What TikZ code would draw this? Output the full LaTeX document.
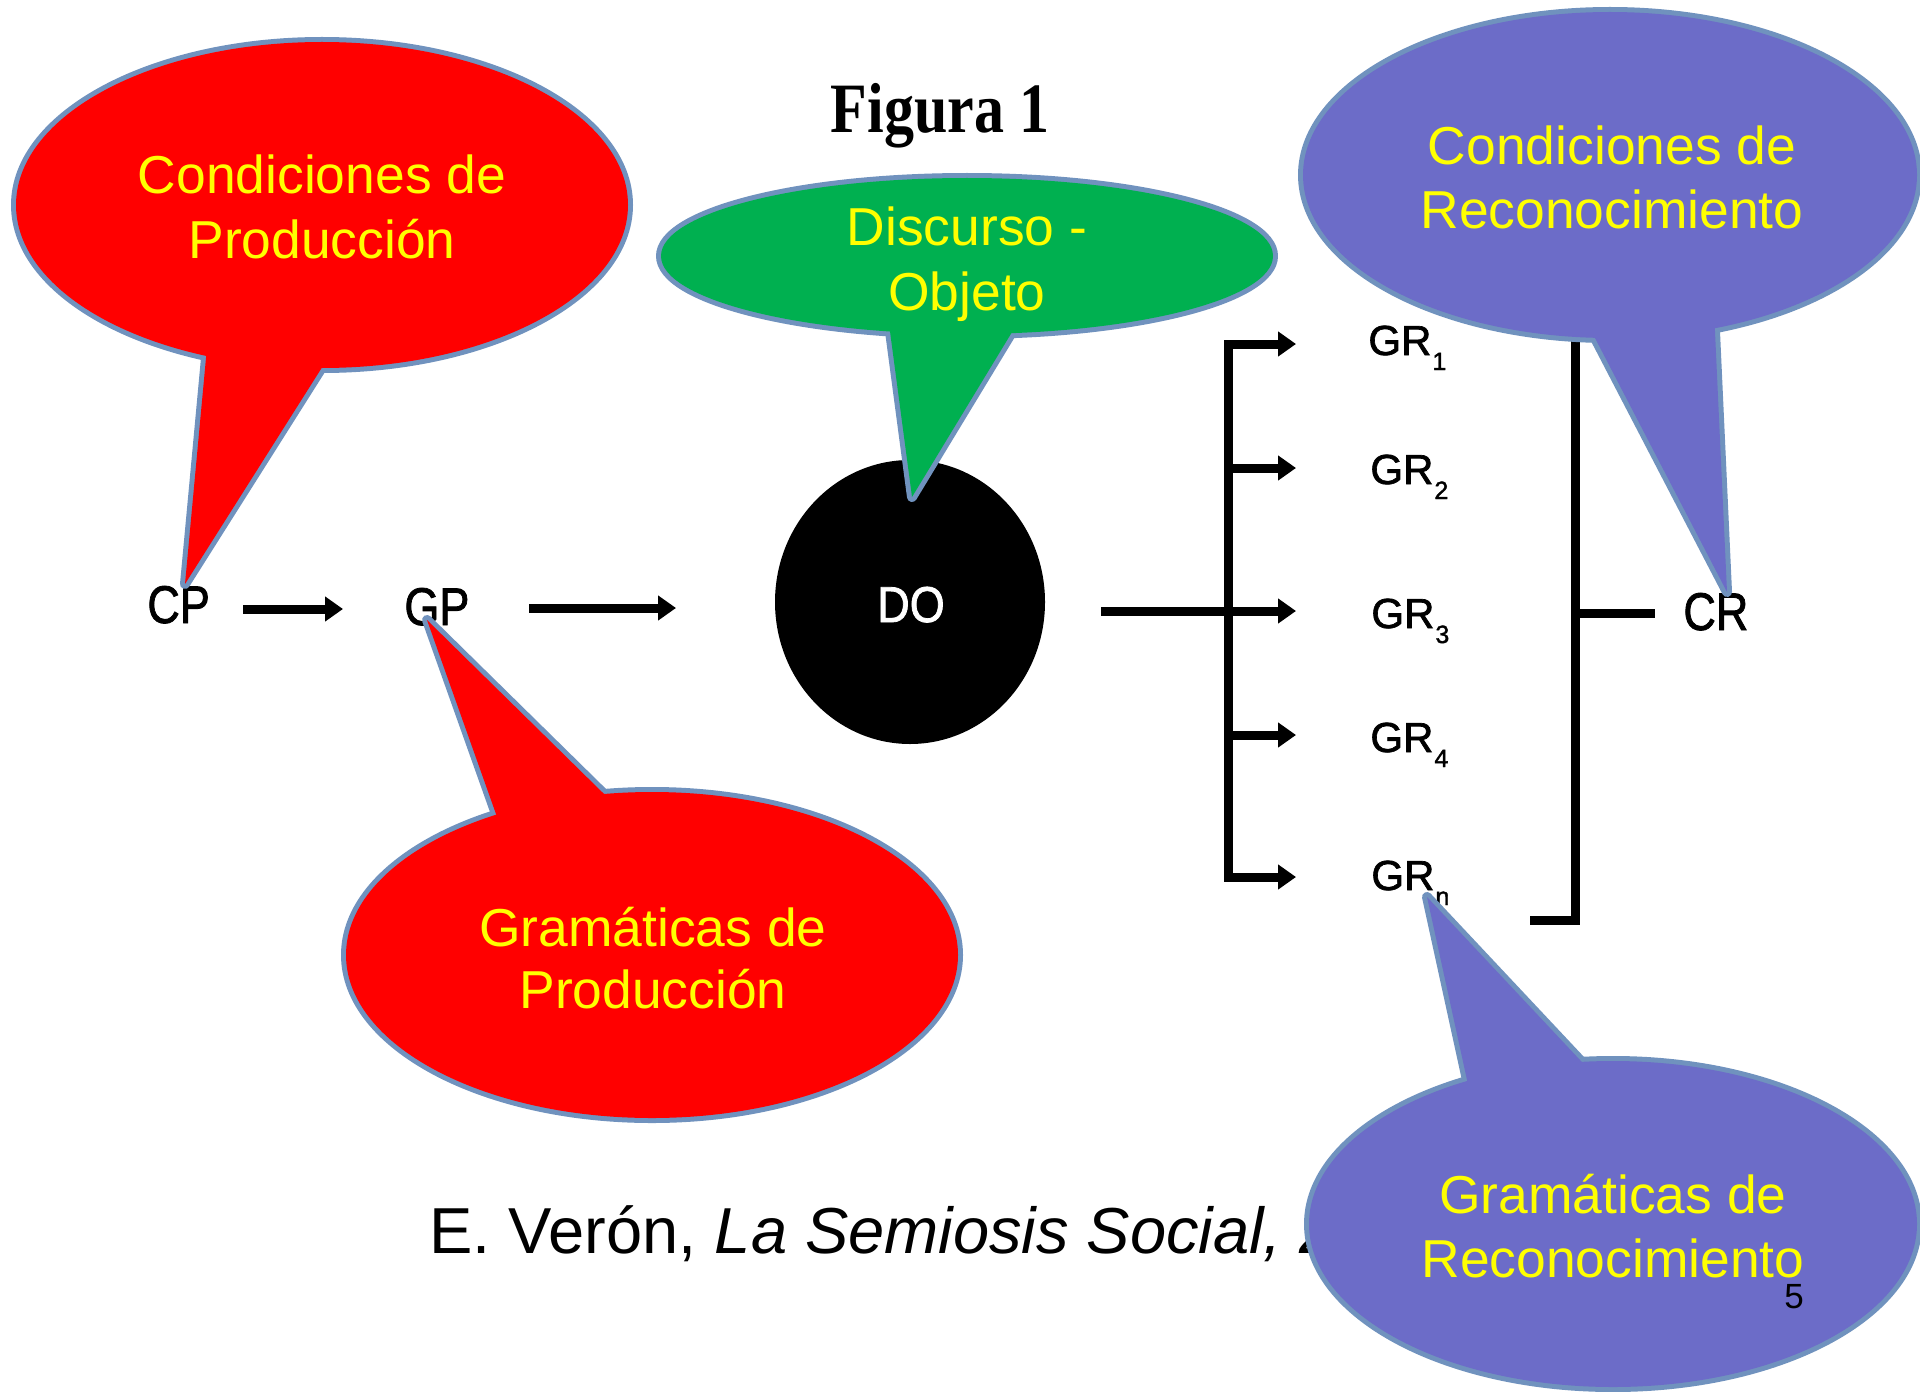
\documentclass[tikz,border=0pt]{standalone}
\usepackage{fontspec}
\setmainfont{Liberation Sans}
\newfontfamily\figserif{Liberation Serif}
\newfontfamily\scanfont{Liberation Sans}[FakeBold=1.6]
\usepackage{graphicx}
\usetikzlibrary{arrows.meta,calc,shapes.geometric}
\definecolor{cred}{RGB}{255,0,0}
\definecolor{cgreen}{RGB}{0,176,80}
\definecolor{cpurple}{RGB}{108,108,200}
\definecolor{coutline}{RGB}{112,146,190}
\definecolor{cyellow}{RGB}{255,255,0}
\newcommand\grsub[1]{\kern0.5pt\raisebox{-7.5pt}{\fontsize{12.5pt}{14pt}\selectfont #1}}
\newcommand\mkcallout[7]{%
  \draw[cout] #1 ellipse[x radius=#2, y radius=#3];
  \draw[cout] ($#4!1.3!#5$) -- #4 -- ($#4!1.3!#6$) -- cycle;
  \fill[#7] #1 ellipse[x radius=#2, y radius=#3];
  \fill[#7] ($#4!1.3!#5$) -- #4 -- ($#4!1.3!#6$) -- cycle;
}
\begin{document}
\begin{tikzpicture}[x=0.5pt,y=-0.5pt,
  blk/.style={line width=4.5pt,black},
  arr/.style={blk,-{Triangle[length=9pt,width=12pt]}},
  scan/.style={inner sep=0pt,anchor=base west,font=\scanfont\fontsize{22.5pt}{27pt}\selectfont},
  grlab/.style={inner sep=0pt,anchor=base west,font=\scanfont\fontsize{21pt}{25pt}\selectfont},
  ctext/.style={inner sep=0pt,anchor=base,text=cyellow,font=\fontsize{26.7pt}{32pt}\selectfont},
  cout/.style={draw=coutline,line width=5pt,line join=round}]
\useasboundingbox (0,0) rectangle (1920,1391);
\fill[white] (0,0) rectangle (1920,1391);

% title
\node[anchor=base,inner sep=0pt,font=\figserif\bfseries\fontsize{30pt}{36pt}\selectfont] (fig) at (940,133) {\scalebox{1}[1.18]{Figura 1}};

% scanned diagram
\node[scan] (cp) at (147,623) {\scalebox{1}[1.18]{CP}};
\node[scan] (gp) at (404,625) {\scalebox{1}[1.18]{GP}};
\node[ellipse,fill=black,minimum width=135pt,minimum height=142pt,inner sep=0pt] (do) at (910,602) {};
\node[scan,anchor=base,text=white] (dolab) at (911,622) {\scalebox{1}[1.12]{DO}};
\node[scan] (cr) at (1683,630) {\scalebox{1}[1.18]{CR}};

\node[grlab] (gr1) at (1368,355) {GR\grsub{1}};
\node[grlab] (gr2) at (1370,484) {GR\grsub{2}};
\node[grlab] (gr3) at (1371,628) {GR\grsub{3}};
\node[grlab] (gr4) at (1370,752) {GR\grsub{4}};
\node[grlab] (grn) at (1371,890) {GR\grsub{n}};

\coordinate (a1s) at (243,609);  \coordinate (a1e) at (343,609);
\coordinate (a2s) at (529,608);  \coordinate (a2e) at (676,608);
\coordinate (a3s) at (1101,611); \coordinate (a3e) at (1296,611);
\draw[arr] (a1s) -- (a1e);
\draw[arr] (a2s) -- (a2e);
\draw[arr] (a3s) -- (a3e);

\coordinate (lb1) at (1228,344); \coordinate (lt1) at (1296,344);
\coordinate (lb2) at (1228,468); \coordinate (lt2) at (1296,468);
\coordinate (lb4) at (1228,735); \coordinate (lt4) at (1296,735);
\coordinate (lb5) at (1228,877); \coordinate (lt5) at (1296,877);
\draw[blk,line cap=rect] (lb1) -- (lb5);
\draw[arr] (lb1) -- (lt1);
\draw[arr] (lb2) -- (lt2);
\draw[arr] (lb4) -- (lt4);
\draw[arr] (lb5) -- (lt5);

\coordinate (rb1) at (1575,341); \coordinate (rb2) at (1575,920); \coordinate (rb3) at (1530,920);
\coordinate (rs1) at (1575,613); \coordinate (rs2) at (1655,613);
\draw[blk,line join=miter] (rb1) -- (rb2) -- (rb3);
\draw[blk] (rs1) -- (rs2);

% citation
\node[anchor=base west,inner sep=0pt,font=\fontsize{32.5pt}{39pt}\selectfont] (cite) at (429,1253) {E. Verón, \textit{La Semiosis Social, 2}};

% callout 1: Condiciones de Produccion
\coordinate (c1) at (322,205); \coordinate (c1t) at (185,584);
\coordinate (c1l) at (206,358); \coordinate (c1r) at (321,369);
\mkcallout{(c1)}{153pt}{81.5pt}{(c1t)}{(c1l)}{(c1r)}{cred}
\node[ctext] (t1a) at (322,194) {Condiciones de};
\node[ctext] (t1b) at (322,258) {Producción};

% callout 2: Discurso - Objeto
\coordinate (c2) at (967,256); \coordinate (c2t) at (912,497);
\coordinate (c2l) at (891,339); \coordinate (c2r) at (1006,342);
\mkcallout{(c2)}{153pt}{39pt}{(c2t)}{(c2l)}{(c2r)}{cgreen}
\node[ctext] (t2a) at (967,246) {Discurso -};
\node[ctext] (t2b) at (967,310) {Objeto};

% callout 3: Gramaticas de Produccion
\coordinate (c3) at (652,955); \coordinate (c3t) at (427,620);
\coordinate (c3l) at (496,814); \coordinate (c3r) at (602,792);
\mkcallout{(c3)}{153pt}{81.5pt}{(c3t)}{(c3l)}{(c3r)}{cred}
\node[ctext] (t3a) at (653,946) {Gramáticas de};
\node[ctext] (t3b) at (653,1008) {Producción};

% callout 4: Condiciones de Reconocimiento
\coordinate (c4) at (1610,175); \coordinate (c4t) at (1727,592);
\coordinate (c4l) at (1596,340); \coordinate (c4r) at (1715,332);
\mkcallout{(c4)}{153.5pt}{81.5pt}{(c4t)}{(c4l)}{(c4r)}{cpurple}
\node[ctext] (t4a) at (1612,165) {Condiciones de};
\node[ctext] (t4b) at (1612,228) {Reconocimiento};

% callout 5: Gramaticas de Reconocimiento
\coordinate (c5) at (1613,1224); \coordinate (c5t) at (1427,897);
\coordinate (c5l) at (1467,1080); \coordinate (c5r) at (1580,1060);
\mkcallout{(c5)}{152pt}{81.5pt}{(c5t)}{(c5l)}{(c5r)}{cpurple}
\node[ctext] (t5a) at (1613,1213) {Gramáticas de};
\node[ctext] (t5b) at (1613,1277) {Reconocimiento};

% page number
\node[anchor=base,inner sep=0pt,font=\fontsize{17.5pt}{21pt}\selectfont] (pg) at (1794,1308) {5};
\end{tikzpicture}
\end{document}
